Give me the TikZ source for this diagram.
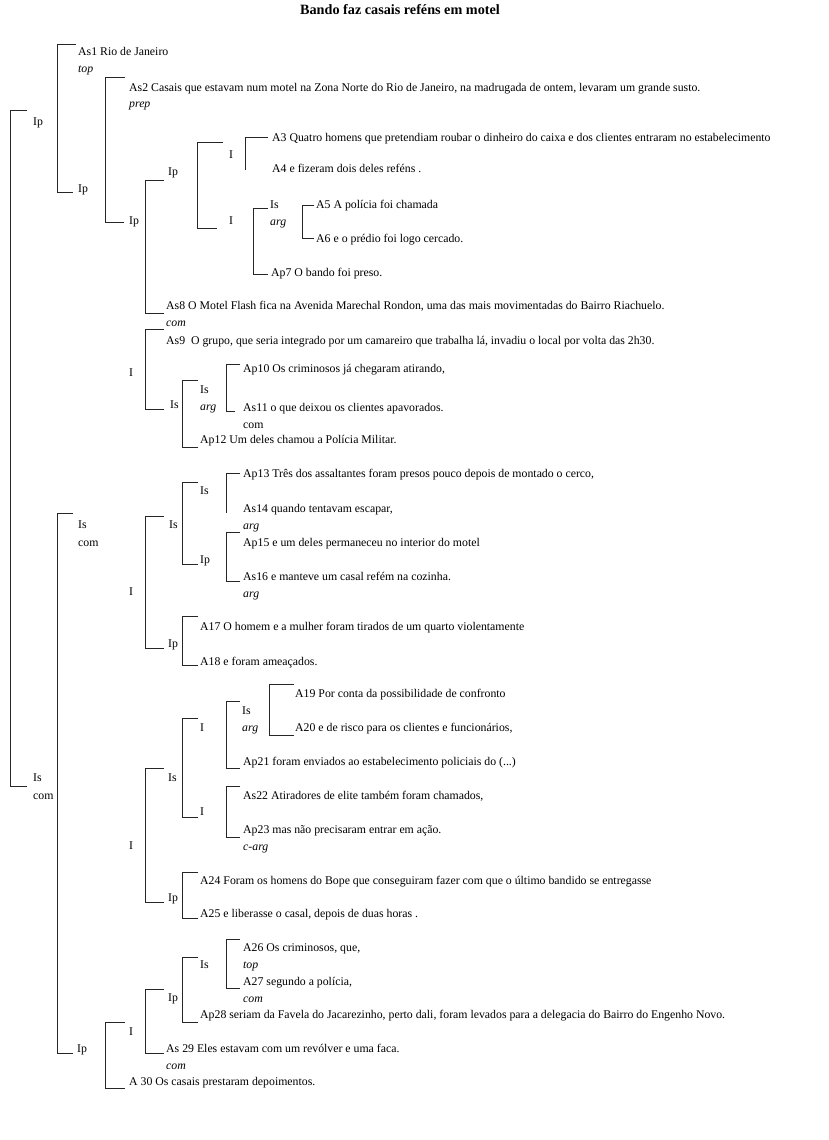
\documentclass[tikz,border=0pt]{standalone}
\usepackage{fontspec}
\setmainfont{Liberation Serif}
\newcommand{\lbl}[4]{\node[t] (#1) at (#2,#3+4) {#4};}
\newcommand{\rlb}[4]{\node[rel] (#1) at (#2,#3+4) {#4};}
\newcommand{\bk}[5]{\draw[brk] (#4,#2) -- (#1,#2) -- (#1,#3) -- (#5,#3);}
\newcommand{\bkt}[4]{\draw[brk] (#4,#2) -- (#1,#2) -- (#1,#3);}
\begin{document}
\begin{tikzpicture}[x=1pt,y=-1pt,
  t/.style={anchor=base west, inner sep=0pt, font=\fontsize{11.8}{14}\selectfont},
  rel/.style={t, font=\fontsize{11.8}{14}\selectfont\itshape},
  ttl/.style={anchor=base, inner sep=0pt, font=\fontsize{14.2}{16}\selectfont\bfseries},
  brk/.style={line width=0.9pt, draw=black!85}]
\useasboundingbox[fill=white] (0,0) rectangle (828,1140);
\node[ttl] (title) at (400,15) {Bando faz casais reféns em motel};

% ---------- brackets ----------
\bk{10}{110}{786}{27}{27}
\bk{57}{44}{192}{76}{73}
\bk{105}{77}{222}{125}{124}
\bk{145}{180}{313}{164}{164}
\bk{197}{142}{228}{223}{217}
\bkt{245}{137}{170}{268}
\bk{253}{208}{274}{268}{268}
\bk{302}{205}{238}{314}{314}
\bk{145}{329}{409}{164}{164}
\bk{182}{380}{447}{198}{198}
\bk{226}{364}{411}{240}{235}
\bkt{226}{473}{513}{240}
\bk{182}{482}{564}{198}{198}
\bk{57}{513}{1053}{73}{73}
\bk{145}{516}{648}{164}{164}
\bk{226}{532}{581}{240}{240}
\bk{182}{616}{665}{198}{198}
\bk{269}{684}{735}{294}{294}
\bk{226}{701}{768}{240}{240}
\bk{182}{718}{817}{198}{198}
\bk{145}{768}{902}{164}{164}
\bk{226}{786}{837}{240}{240}
\bk{182}{872}{918}{198}{198}
\bk{226}{939}{988}{240}{240}
\bk{182}{957}{1022}{198}{198}
\bk{145}{989}{1053}{164}{164}
\bk{105}{1022}{1088}{125}{125}

% ---------- texts ----------
\lbl{as1}{78}{52}{As1 Rio de Janeiro}
\rlb{r1}{78}{69}{top}
\lbl{as2}{129}{87}{As2 Casais que estavam num motel na Zona Norte do Rio de Janeiro, na madrugada de ontem, levaram um grande susto.}
\rlb{r2}{129}{103}{prep}
\lbl{n1}{33}{121}{Ip}
\lbl{a3}{272}{137}{A3 Quatro homens que pretendiam roubar o dinheiro do caixa e dos clientes entraram no estabelecimento}
\lbl{n2}{229}{154}{I}
\lbl{n3}{168}{171}{Ip}
\lbl{a4}{272}{168}{A4 e fizeram dois deles reféns .}
\lbl{n4}{78}{188}{Ip}
\lbl{n5}{270}{204}{Is}
\lbl{a5}{316}{204}{A5 A polícia foi chamada}
\rlb{r3}{270}{221}{arg}
\lbl{n6}{229}{220}{I}
\lbl{n7}{129}{220}{Ip}
\lbl{a6}{316}{238}{A6 e o prédio foi logo cercado.}
\lbl{ap7}{271}{272}{Ap7 O bando foi preso.}
\lbl{as8}{166}{305}{As8 O Motel Flash fica na Avenida Marechal Rondon, uma das mais movimentadas do Bairro Riachuelo.}
\rlb{r4}{166}{322}{com}
\lbl{as9}{166}{340}{As9\ \ O grupo, que seria integrado por um camareiro que trabalha lá, invadiu o local por volta das 2h30.}
\lbl{n8}{129}{372}{I}
\lbl{ap10}{243}{368}{Ap10 Os criminosos já chegaram atirando,}
\lbl{n9}{200}{389}{Is}
\lbl{n10}{170}{404}{Is}
\rlb{r5}{200}{406}{arg}
\lbl{as11}{243}{407}{As11 o que deixou os clientes apavorados.}
\lbl{r6}{243}{424}{com}
\lbl{ap12}{200}{439}{Ap12 Um deles chamou a Polícia Militar.}
\lbl{ap13}{243}{473}{Ap13 Três dos assaltantes foram presos pouco depois de montado o cerco,}
\lbl{n11}{200}{490}{Is}
\lbl{as14}{243}{508}{As14 quando tentavam escapar,}
\lbl{n12}{78}{524}{Is}
\rlb{r7}{243}{525}{arg}
\lbl{n13}{169}{524}{Is}
\lbl{r8}{78}{542}{com}
\lbl{ap15}{243}{542}{Ap15 e um deles permaneceu no interior do motel}
\lbl{n14}{200}{559}{Ip}
\lbl{as16}{243}{576}{As16 e manteve um casal refém na cozinha.}
\lbl{n15}{129}{591}{I}
\rlb{r9}{243}{593}{arg}
\lbl{a17}{200}{626}{A17 O homem e a mulher foram tirados de um quarto violentamente}
\lbl{n16}{168}{643}{Ip}
\lbl{a18}{200}{661}{A18 e foram ameaçados.}
\lbl{a19}{295}{693}{A19 Por conta da possibilidade de confronto}
\lbl{n17}{242}{710}{Is}
\lbl{n18}{200}{727}{I}
\rlb{r10}{242}{727}{arg}
\lbl{a20}{295}{727}{A20 e de risco para os clientes e funcionários,}
\lbl{ap21}{243}{761}{Ap21 foram enviados ao estabelecimento policiais do (...)}
\lbl{n19}{33}{777}{Is}
\lbl{n20}{168}{777}{Is}
\lbl{r11}{33}{795}{com}
\lbl{as22}{243}{795}{As22 Atiradores de elite também foram chamados,}
\lbl{n21}{200}{811}{I}
\lbl{ap23}{243}{829}{Ap23 mas não precisaram entrar em ação.}
\lbl{n22}{129}{845}{I}
\rlb{r12}{243}{846}{c-arg}
\lbl{a24}{200}{880}{A24 Foram os homens do Bope que conseguiram fazer com que o último bandido se entregasse}
\lbl{n23}{168}{897}{Ip}
\lbl{a25}{200}{913}{A25 e liberasse o casal, depois de duas horas .}
\lbl{a26}{243}{947}{A26 Os criminosos, que,}
\lbl{n24}{200}{964}{Is}
\rlb{r13}{243}{964}{top}
\lbl{a27}{243}{981}{A27 segundo a polícia,}
\lbl{n25}{168}{997}{Ip}
\rlb{r14}{243}{998}{com}
\lbl{ap28}{200}{1014}{Ap28 seriam da Favela do Jacarezinho, perto dali, foram levados para a delegacia do Bairro do Engenho Novo.}
\lbl{n26}{129}{1031}{I}
\lbl{as29}{166}{1048}{As 29 Eles estavam com um revólver e uma faca.}
\lbl{n27}{77}{1048}{Ip}
\rlb{r15}{166}{1065}{com}
\lbl{a30}{129}{1081}{A 30 Os casais prestaram depoimentos.}
\end{tikzpicture}
\end{document}
